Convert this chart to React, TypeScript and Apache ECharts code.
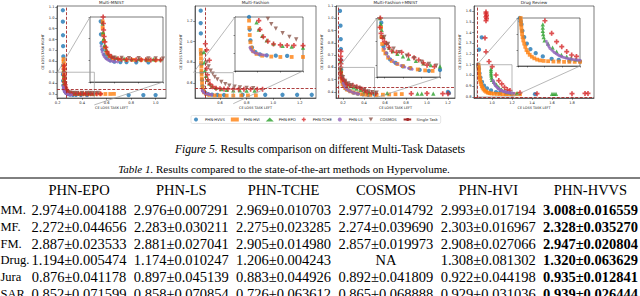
import React, { useEffect, useRef } from "react";
import * as echarts from "echarts";

// ---------------- DATA ----------------
const METHODS = ["PHN-HVVS", "PHN-HVI", "PHN-EPO", "PHN-TCHE", "PHN-LS", "COSMOS"];
const SINGLE_NAME = "Single Task";
const TITLES = ["Multi-MNIST", "Multi-Fashion", "Multi-Fashion+MNIST", "Drug Review"];

// Multi-MNIST
const mnistHVVS = [[0.243,1.07],[0.243,0.965],[0.244,0.84],[0.245,0.74],[0.247,0.645],[0.245,0.56],[0.244,0.48],[0.245,0.42],[0.247,0.38],[0.252,0.35],[0.26,0.326],[0.27,0.31],[0.283,0.3],[0.3,0.294],[0.325,0.292],[0.35,0.292],[0.39,0.291],[0.44,0.291],[0.78,0.29],[0.9,0.29],[1.0,0.29]];
const mnistHVI = [[0.248,0.62],[0.249,0.6],[0.25,0.58],[0.249,0.56],[0.251,0.54],[0.25,0.51],[0.252,0.48],[0.252,0.45],[0.254,0.42],[0.257,0.39],[0.262,0.36],[0.27,0.335],[0.28,0.318],[0.295,0.308],[0.32,0.304],[0.35,0.302],[0.38,0.302],[0.41,0.302],[0.44,0.301],[0.47,0.301],[0.51,0.3],[0.55,0.3],[0.59,0.3],[0.63,0.3],[0.66,0.301]];
const mnistEPO = [[0.251,0.52],[0.252,0.47],[0.254,0.43],[0.256,0.4],[0.26,0.37],[0.266,0.35],[0.275,0.33],[0.29,0.318],[0.31,0.311],[0.34,0.308],[0.37,0.306],[0.4,0.306],[0.43,0.305],[0.46,0.305],[0.49,0.304]];
const mnistTCHE = [[0.253,0.56],[0.252,0.53],[0.254,0.5],[0.255,0.47],[0.256,0.44],[0.258,0.41],[0.261,0.385],[0.265,0.36],[0.27,0.34],[0.278,0.326],[0.288,0.316],[0.3,0.31],[0.315,0.307],[0.33,0.305],[0.35,0.304],[0.37,0.304],[0.39,0.303],[0.41,0.303],[0.43,0.303],[0.45,0.302],[0.47,0.302],[0.49,0.302],[0.52,0.302],[0.55,0.301]];
const mnistLS = [[0.246,0.365],[0.248,0.35],[0.25,0.338],[0.254,0.327],[0.258,0.318],[0.263,0.311],[0.269,0.305],[0.276,0.3],[0.284,0.297],[0.293,0.295],[0.303,0.293],[0.313,0.292]];
const mnistCOSMOS = [[0.3,0.312],[0.33,0.311],[0.36,0.31],[0.4,0.31],[0.44,0.309],[0.47,0.309],[0.5,0.308],[0.53,0.31]];
const mnistSingle = [0.27, 0.335];
const mnistXRange = [0.195, 1.085];
const mnistYRange = [0.263, 1.109];
const mnistXTicks = [0.2, 0.4, 0.6, 0.8, 1.0];
const mnistYTicks = [0.3, 0.4, 0.5, 0.6, 0.7, 0.8, 0.9, 1.0, 1.1];
const mnistZoomX = [0.2, 0.5];
const mnistZoomY = [0.2, 0.5];

// Multi-Fashion
const fashionHVVS = [[0.455,1.3],[0.455,1.18],[0.456,1.08],[0.458,0.89],[0.46,0.78],[0.462,0.7],[0.465,0.63],[0.468,0.57],[0.475,0.53],[0.49,0.505],[0.51,0.492],[0.54,0.487],[0.58,0.485],[0.63,0.484],[0.77,0.486],[0.94,0.486],[1.07,0.486],[1.18,0.486],[1.29,0.486]];
const fashionHVI = [[0.455,0.92],[0.456,0.88],[0.457,0.84],[0.458,0.8],[0.46,0.76],[0.46,0.72],[0.462,0.68],[0.463,0.64],[0.465,0.6],[0.468,0.56],[0.472,0.53],[0.48,0.51],[0.495,0.495],[0.52,0.485],[0.56,0.48],[0.6,0.478],[0.65,0.478],[0.7,0.478],[0.76,0.48],[0.81,0.48],[0.87,0.48]];
const fashionEPO = [[0.48,0.9],[0.482,0.8],[0.487,0.72],[0.495,0.67],[0.505,0.63],[0.52,0.595],[0.54,0.57],[0.57,0.552],[0.61,0.54],[0.65,0.535],[0.7,0.53],[0.75,0.528],[0.8,0.527],[0.86,0.527]];
const fashionTCHE = [[0.49,0.98],[0.5,0.92],[0.52,0.82],[0.5,0.74],[0.505,0.68],[0.51,0.63],[0.525,0.59],[0.545,0.565],[0.57,0.55],[0.6,0.545],[0.63,0.542],[0.66,0.542],[0.7,0.541],[0.74,0.54],[0.78,0.54],[0.83,0.54],[0.88,0.54],[0.92,0.54]];
const fashionLS = [[0.466,0.53],[0.47,0.52],[0.475,0.512],[0.482,0.505],[0.49,0.5],[0.5,0.496],[0.51,0.493],[0.52,0.49],[0.53,0.488],[0.54,0.487]];
const fashionCOSMOS = [[0.5,0.8],[0.515,0.76],[0.53,0.72],[0.545,0.69],[0.56,0.66],[0.58,0.635],[0.61,0.61],[0.64,0.59],[0.67,0.575],[0.71,0.565],[0.75,0.558],[0.8,0.553],[0.85,0.55]];
const fashionSingle = [0.487, 0.552];
const fashionXRange = [0.412, 1.322];
const fashionYRange = [0.455, 1.345];
const fashionXTicks = [0.6, 0.8, 1.0, 1.2];
const fashionYTicks = [0.6, 0.8, 1.0, 1.2];
const fashionZoomX = [0.4, 0.7];
const fashionZoomY = [0.4, 0.7];

// Multi-Fashion+MNIST
const fmHVVS = [[0.171,1.06],[0.176,0.94],[0.178,0.83],[0.18,0.75],[0.181,0.66],[0.183,0.58],[0.186,0.52],[0.195,0.48],[0.21,0.45],[0.23,0.425],[0.26,0.41],[0.3,0.395],[0.34,0.387],[0.39,0.38],[0.44,0.376],[0.5,0.38],[1.2,0.4],[1.21,0.39]];
const fmHVI = [[0.182,0.56],[0.184,0.52],[0.188,0.49],[0.195,0.465],[0.205,0.45],[0.22,0.432],[0.24,0.418],[0.27,0.405],[0.3,0.396],[0.34,0.388],[0.38,0.382],[0.42,0.378],[0.46,0.376],[0.52,0.375],[0.58,0.378],[0.64,0.38],[0.7,0.382],[0.76,0.383]];
const fmEPO = [[0.176,0.65],[0.176,0.6],[0.18,0.575],[0.185,0.55],[0.195,0.52],[0.21,0.495],[0.225,0.475],[0.245,0.46],[0.27,0.448],[0.3,0.437],[0.33,0.428],[0.37,0.418],[0.41,0.408],[0.45,0.4],[0.5,0.395],[0.62,0.39],[0.91,0.387],[0.95,0.387],[1.06,0.387]];
const fmTCHE = [[0.18,0.73],[0.178,0.69],[0.179,0.66],[0.18,0.63],[0.178,0.6],[0.176,0.56],[0.182,0.535],[0.19,0.515],[0.2,0.5],[0.212,0.49],[0.225,0.475],[0.24,0.46],[0.265,0.455],[0.293,0.455],[0.33,0.443],[0.36,0.432],[0.385,0.422],[0.41,0.41],[0.43,0.4],[0.47,0.394],[0.51,0.388],[0.85,0.387],[1.0,0.388],[1.15,0.386],[1.2,0.386]];
const fmLS = [[0.2,0.47],[0.21,0.452],[0.22,0.437],[0.235,0.424],[0.25,0.414],[0.27,0.405],[0.29,0.398],[0.31,0.392],[0.33,0.387],[0.35,0.383]];
const fmCOSMOS = [[0.2,0.52],[0.22,0.49],[0.25,0.47],[0.28,0.455],[0.32,0.44],[0.36,0.43],[0.4,0.415],[0.44,0.405],[0.48,0.398],[0.52,0.395]];
const fmSingle = [0.155, 0.44];
const fmXRange = [0.133, 1.267];
const fmYRange = [0.351, 1.1];
const fmXTicks = [0.2, 0.4, 0.6, 0.8, 1.0, 1.2];
const fmYTicks = [0.4, 0.5, 0.6, 0.7, 0.8, 0.9, 1.0, 1.1];
const fmZoomX = [0.16, 0.5];
const fmZoomY = [0.35, 0.6];

// Drug Review
const drugHVVS = [[0.897,1.355],[0.87,1.24],[0.86,1.1],[0.865,1.08],[0.87,1.06],[0.875,1.02],[0.885,0.98],[0.9,0.94],[0.92,0.905],[0.95,0.88],[0.99,0.86],[1.04,0.845],[1.08,0.838],[1.14,0.832],[1.2,0.829],[1.43,0.826]];
const drugHVI = [[0.865,1.1],[0.866,1.08],[0.867,1.06],[0.869,1.04],[0.871,1.02],[0.873,1.0],[0.876,0.98],[0.88,0.96],[0.885,0.94],[0.891,0.92],[0.898,0.9],[0.906,0.885],[0.916,0.87],[0.928,0.858],[0.942,0.848],[0.958,0.84],[0.975,0.835],[0.995,0.832],[1.02,0.83],[1.05,0.828],[1.08,0.827],[1.11,0.826],[1.14,0.826],[1.17,0.826],[1.2,0.826],[1.24,0.825],[1.28,0.825]];
const drugEPO = [[0.99,1.06],[0.99,1.04],[0.99,1.02],[0.992,1.0],[0.995,0.98],[1.0,0.96],[1.02,0.94],[1.045,0.915],[1.068,0.89],[1.095,0.87],[1.125,0.858],[1.15,0.85],[1.177,0.842],[1.25,0.835],[1.6,0.828],[1.62,0.828],[1.64,0.828]];
const drugTCHE = [[0.94,1.59],[0.94,1.575],[0.945,1.56],[0.94,1.545],[0.945,1.53],[0.94,1.51],[0.93,1.35],[0.94,1.22],[0.97,1.13],[1.002,1.083],[1.04,1.004],[1.068,0.952],[1.097,0.921],[1.125,0.89],[1.153,0.869],[1.18,0.86],[1.28,0.84],[1.45,0.83],[1.8,0.83],[1.93,0.833],[1.96,0.833]];
const drugLS = [[1.01,0.955],[1.015,0.94],[1.02,0.93],[1.025,0.92],[1.03,0.91],[1.04,0.9],[1.048,0.892],[1.055,0.885],[1.063,0.879],[1.07,0.873],[1.078,0.868],[1.085,0.864],[1.093,0.86],[1.1,0.857],[1.11,0.853],[1.12,0.85],[1.13,0.847],[1.14,0.845],[1.15,0.843],[1.16,0.841],[1.17,0.839],[1.18,0.838],[1.19,0.837],[1.2,0.836],[1.22,0.834]];
const drugCOSMOS: number[][] = [];
const drugSingle = [0.85, 0.8];
const drugXRange = [0.82, 2.02];
const drugYRange = [0.79, 1.647];
const drugXTicks = [1.0, 1.2, 1.4, 1.6, 1.8];
const drugYTicks = [0.8, 0.9, 1.0, 1.1, 1.2, 1.3, 1.4, 1.5, 1.6];
const drugZoomX = [0.85, 1.2];
const drugZoomY = [0.8, 1.1];

// Table
const TABLE_TITLE_LABEL = "Table 1.";
const TABLE_TITLE = " Results compared to the state-of-the-art methods on Hypervolume.";
const FIGURE_LABEL = "Figure 5.";
const FIGURE_CAPTION = " Results comparison on different Multi-Task Datasets";
const tableColumns = ["PHN-EPO", "PHN-LS", "PHN-TCHE", "COSMOS", "PHN-HVI", "PHN-HVVS"];
const tableRowLabels = ["MM.", "MF.", "FM.", "Drug.", "Jura", "SAR."];
const rowMM = ["2.974±0.004188", "2.976±0.007291", "2.969±0.010703", "2.977±0.014792", "2.993±0.017194", "3.008±0.016559"];
const rowMF = ["2.272±0.044656", "2.283±0.030211", "2.275±0.023285", "2.274±0.039690", "2.303±0.016967", "2.328±0.035270"];
const rowFM = ["2.887±0.023533", "2.881±0.027041", "2.905±0.014980", "2.857±0.019973", "2.908±0.027066", "2.947±0.020804"];
const rowDrug = ["1.194±0.005474", "1.174±0.010247", "1.206±0.004243", "NA", "1.308±0.081302", "1.320±0.063629"];
const rowJura = ["0.876±0.041178", "0.897±0.045139", "0.883±0.044926", "0.892±0.041809", "0.922±0.044198", "0.935±0.012841"];
const rowSAR = ["0.852±0.071599", "0.858±0.070854", "0.726±0.063612", "0.865±0.068888", "0.929±0.031036", "0.939±0.026444"];
const tableRows = [rowMM, rowMF, rowFM, rowDrug, rowJura, rowSAR];

// ---------------- STYLE / LAYOUT ----------------
const COLORS = ["#1f77b4", "#ff7f0e", "#2ca02c", "#d62728", "#9467bd", "#8c564b"];
const SYMBOLS = [
  "circle",
  "rect",
  "triangle",
  "path://M3,0H6V3H9V6H6V9H3V6H0V3H3Z",
  "circle",
  "path://M0,0H10L5,9Z",
];
const SIZES = [4.3, 3.8, 4.3, 5, 3, 4.3];
const SINGLE_COLOR = "#a52a2a";

const MAIN_GRIDS = [
  { left: 57, top: 6, width: 109, height: 92 },
  { left: 195, top: 6, width: 121, height: 92 },
  { left: 336, top: 6, width: 119, height: 92 },
  { left: 474, top: 6, width: 120, height: 92 },
];
const INSET_GRIDS = [
  { left: 90, top: 17, width: 73, height: 65 },
  { left: 235, top: 17, width: 68, height: 54 },
  { left: 377, top: 18, width: 63, height: 59 },
  { left: 518, top: 18, width: 62, height: 48 },
];

const DATASETS = [
  { series: [mnistHVVS, mnistHVI, mnistEPO, mnistTCHE, mnistLS, mnistCOSMOS], single: mnistSingle, xr: mnistXRange, yr: mnistYRange, xt: mnistXTicks, yt: mnistYTicks, zx: mnistZoomX, zy: mnistZoomY },
  { series: [fashionHVVS, fashionHVI, fashionEPO, fashionTCHE, fashionLS, fashionCOSMOS], single: fashionSingle, xr: fashionXRange, yr: fashionYRange, xt: fashionXTicks, yt: fashionYTicks, zx: fashionZoomX, zy: fashionZoomY },
  { series: [fmHVVS, fmHVI, fmEPO, fmTCHE, fmLS, fmCOSMOS], single: fmSingle, xr: fmXRange, yr: fmYRange, xt: fmXTicks, yt: fmYTicks, zx: fmZoomX, zy: fmZoomY },
  { series: [drugHVVS, drugHVI, drugEPO, drugTCHE, drugLS, drugCOSMOS], single: drugSingle, xr: drugXRange, yr: drugYRange, xt: drugXTicks, yt: drugYTicks, zx: drugZoomX, zy: drugZoomY },
];

const AX = "#222";
const SANS = "DejaVu Sans";
const SERIF = "Liberation Serif";

function buildOption() {
  const grid: any[] = [];
  const xAxis: any[] = [];
  const yAxis: any[] = [];
  const series: any[] = [];
  DATASETS.forEach((d, i) => {
    grid.push({ ...MAIN_GRIDS[i], show: true, borderColor: AX, borderWidth: 0.6, backgroundColor: "#fff", containLabel: false });
    grid.push({ ...INSET_GRIDS[i], show: true, borderColor: AX, borderWidth: 0.6, backgroundColor: "#fff", containLabel: false, z: 3 });
    const fmt = (v: number) => v.toFixed(1);
    xAxis.push({
      type: "value", gridIndex: 2 * i, min: d.xr[0], max: d.xr[1],
      axisLine: { show: true, onZero: false, lineStyle: { color: AX, width: 0.6 } },
      axisTick: { show: true, length: 1.8, customValues: d.xt, lineStyle: { color: AX, width: 0.5 } },
      axisLabel: { show: true, customValues: d.xt, formatter: fmt, fontSize: 3.6, margin: 2.5, color: AX, fontFamily: SANS },
      splitLine: { show: false },
      name: "CE LOSS TASK LEFT", nameLocation: "middle", nameGap: 8,
      nameTextStyle: { fontSize: 3.4, color: AX, fontFamily: SANS },
    });
    yAxis.push({
      type: "value", gridIndex: 2 * i, min: d.yr[0], max: d.yr[1],
      axisLine: { show: true, onZero: false, lineStyle: { color: AX, width: 0.6 } },
      axisTick: { show: true, length: 1.8, customValues: d.yt, lineStyle: { color: AX, width: 0.5 } },
      axisLabel: { show: true, customValues: d.yt, formatter: fmt, fontSize: 3.6, margin: 2.5, color: AX, fontFamily: SANS },
      splitLine: { show: false },
      name: "CE LOSS TASK RIGHT", nameLocation: "middle", nameGap: 12,
      nameTextStyle: { fontSize: 3.4, color: AX, fontFamily: SANS },
    });
    xAxis.push({
      type: "value", gridIndex: 2 * i + 1, min: d.zx[0], max: d.zx[1], splitNumber: 3,
      axisLine: { show: true, onZero: false, lineStyle: { color: AX, width: 0.6 } },
      axisTick: { show: true, length: 1.5, lineStyle: { color: AX, width: 0.5 } },
      axisLabel: { show: false }, splitLine: { show: false },
    });
    yAxis.push({
      type: "value", gridIndex: 2 * i + 1, min: d.zy[0], max: d.zy[1], splitNumber: 3,
      axisLine: { show: true, onZero: false, lineStyle: { color: AX, width: 0.6 } },
      axisTick: { show: true, length: 1.5, lineStyle: { color: AX, width: 0.5 } },
      axisLabel: { show: false }, splitLine: { show: false },
    });
    d.series.forEach((pts, m) => {
      [2 * i, 2 * i + 1].forEach((ax) => {
        series.push({
          type: "scatter", name: METHODS[m], xAxisIndex: ax, yAxisIndex: ax,
          data: pts, symbol: SYMBOLS[m], symbolSize: SIZES[m], clip: true,
          itemStyle: { color: COLORS[m], opacity: 0.8 }, z: ax % 2 ? 5 : 2,
        });
      });
    });
    series.push({
      type: "line", name: SINGLE_NAME, xAxisIndex: 2 * i, yAxisIndex: 2 * i, data: [],
      symbol: "none", lineStyle: { color: SINGLE_COLOR, type: [3, 1.6], width: 0.9 },
      itemStyle: { color: SINGLE_COLOR },
      markLine: {
        silent: true, symbol: ["none", "none"], label: { show: false },
        lineStyle: { color: SINGLE_COLOR, type: [3, 1.6], width: 0.9 },
        data: [{ xAxis: d.single[0] }, { yAxis: d.single[1] }],
      },
    });
  });
  return {
    animation: false,
    backgroundColor: "#fff",
    textStyle: { fontFamily: SANS },
    grid, xAxis, yAxis, series,
    legend: {
      left: 191, top: 115.5, orient: "horizontal",
      itemWidth: 8, itemHeight: 4, itemGap: 6, padding: [2, 3],
      borderColor: "#ccc", borderWidth: 0.5, borderRadius: 1.5, backgroundColor: "#fff",
      textStyle: { fontSize: 3.8, color: AX, fontFamily: SANS },
      data: [...METHODS, SINGLE_NAME],
    },
  };
}

const COL_CENTERS = [79, 181.3, 283.6, 385.9, 488.2, 590.5];
const HEADER_Y = 190;
const ROW_Y = [210, 226.8, 243.6, 260.4, 277.2, 294];
const TABLE_FONT = 14.5;
const LABEL_FONT = 12.5;

export default function App() {
  const ref = useRef<HTMLDivElement>(null);
  useEffect(() => {
    if (!ref.current) return;
    const chart = echarts.init(ref.current, null, { renderer: "svg" });
    chart.setOption(buildOption());
    const g: any[] = [];
    const gray = "#9a9a9a";
    DATASETS.forEach((d, i) => {
      const m = { gridIndex: 2 * i };
      const n = { gridIndex: 2 * i + 1 };
      const P = (f: any, v: number[]) => chart.convertToPixel(f, v) as number[];
      const rTL = P(m, [d.zx[0], d.zy[1]]);
      const rBR = P(m, [d.zx[1], d.zy[0]]);
      const iTL = P(n, [d.zx[0], d.zy[1]]);
      const iBR = P(n, [d.zx[1], d.zy[0]]);
      const gTL = P(m, [d.xr[0], d.yr[1]]);
      const gBR = P(m, [d.xr[1], d.yr[0]]);
      const x0 = Math.max(rTL[0], gTL[0]);
      const x1 = Math.min(rBR[0], gBR[0]);
      const y0 = Math.max(rTL[1], gTL[1]);
      const y1 = Math.min(rBR[1], gBR[1]);
      const ls = { stroke: gray, lineWidth: 0.7 };
      const edges: number[][] = [];
      if (rTL[1] >= gTL[1]) edges.push([x0, y0, x1, y0]);
      if (rBR[1] <= gBR[1]) edges.push([x0, y1, x1, y1]);
      if (rTL[0] >= gTL[0]) edges.push([x0, y0, x0, y1]);
      if (rBR[0] <= gBR[0]) edges.push([x1, y0, x1, y1]);
      edges.forEach((e) => g.push({ type: "line", z: 4, silent: true, shape: { x1: e[0], y1: e[1], x2: e[2], y2: e[3] }, style: ls }));
      g.push({ type: "line", z: 4, silent: true, shape: { x1: rTL[0], y1: rTL[1], x2: iTL[0], y2: iTL[1] }, style: ls });
      g.push({ type: "line", z: 4, silent: true, shape: { x1: rBR[0], y1: rBR[1], x2: iBR[0], y2: iBR[1] }, style: ls });
      g.push({
        type: "text", z: 10, silent: true, x: (gTL[0] + gBR[0]) / 2, y: gTL[1] - 1.2,
        style: { text: TITLES[i], fontSize: 4.2, fontFamily: SANS, fill: AX, align: "center", verticalAlign: "bottom" },
      });
    });
    // caption
    g.push({
      type: "text", x: 320, y: 149, silent: true,
      style: {
        text: "{i|" + FIGURE_LABEL + "}" + FIGURE_CAPTION,
        rich: { i: { fontStyle: "italic", fontFamily: SERIF, fontSize: 11.6, fill: "#000" } },
        fontFamily: SERIF, fontSize: 11.6, fill: "#000", align: "center", verticalAlign: "middle",
      },
    });
    g.push({
      type: "text", x: 284, y: 169, silent: true,
      style: {
        text: "{i|" + TABLE_TITLE_LABEL + "}" + TABLE_TITLE,
        rich: { i: { fontStyle: "italic", fontFamily: SERIF, fontSize: 11, fill: "#000" } },
        fontFamily: SERIF, fontSize: 11, fill: "#000", align: "center", verticalAlign: "middle",
      },
    });
    g.push({ type: "line", silent: true, shape: { x1: 0, y1: 178, x2: 640, y2: 178 }, style: { stroke: "#000", lineWidth: 1 } });
    tableColumns.forEach((c, k) => {
      g.push({ type: "text", x: COL_CENTERS[k], y: HEADER_Y, silent: true, style: { text: c, fontFamily: SERIF, fontSize: TABLE_FONT, fill: "#000", align: "center", verticalAlign: "middle" } });
    });
    tableRows.forEach((row, r) => {
      g.push({ type: "text", x: 0.5, y: ROW_Y[r], silent: true, style: { text: tableRowLabels[r], fontFamily: SERIF, fontSize: LABEL_FONT, fill: "#000", align: "left", verticalAlign: "middle" } });
      row.forEach((v, k) => {
        g.push({
          type: "text", x: COL_CENTERS[k], y: ROW_Y[r], silent: true,
          style: { text: v, fontFamily: SERIF, fontSize: TABLE_FONT, fontWeight: k === 5 ? "bold" : "normal", fill: "#000", align: "center", verticalAlign: "middle" },
        });
      });
    });
    chart.setOption({ graphic: g });
    return () => chart.dispose();
  }, []);
  return (
    <div
      ref={ref}
      style={{ position: "fixed", left: 0, top: 0, width: 640, height: 296, background: "#fff" }}
    />
  );
}
